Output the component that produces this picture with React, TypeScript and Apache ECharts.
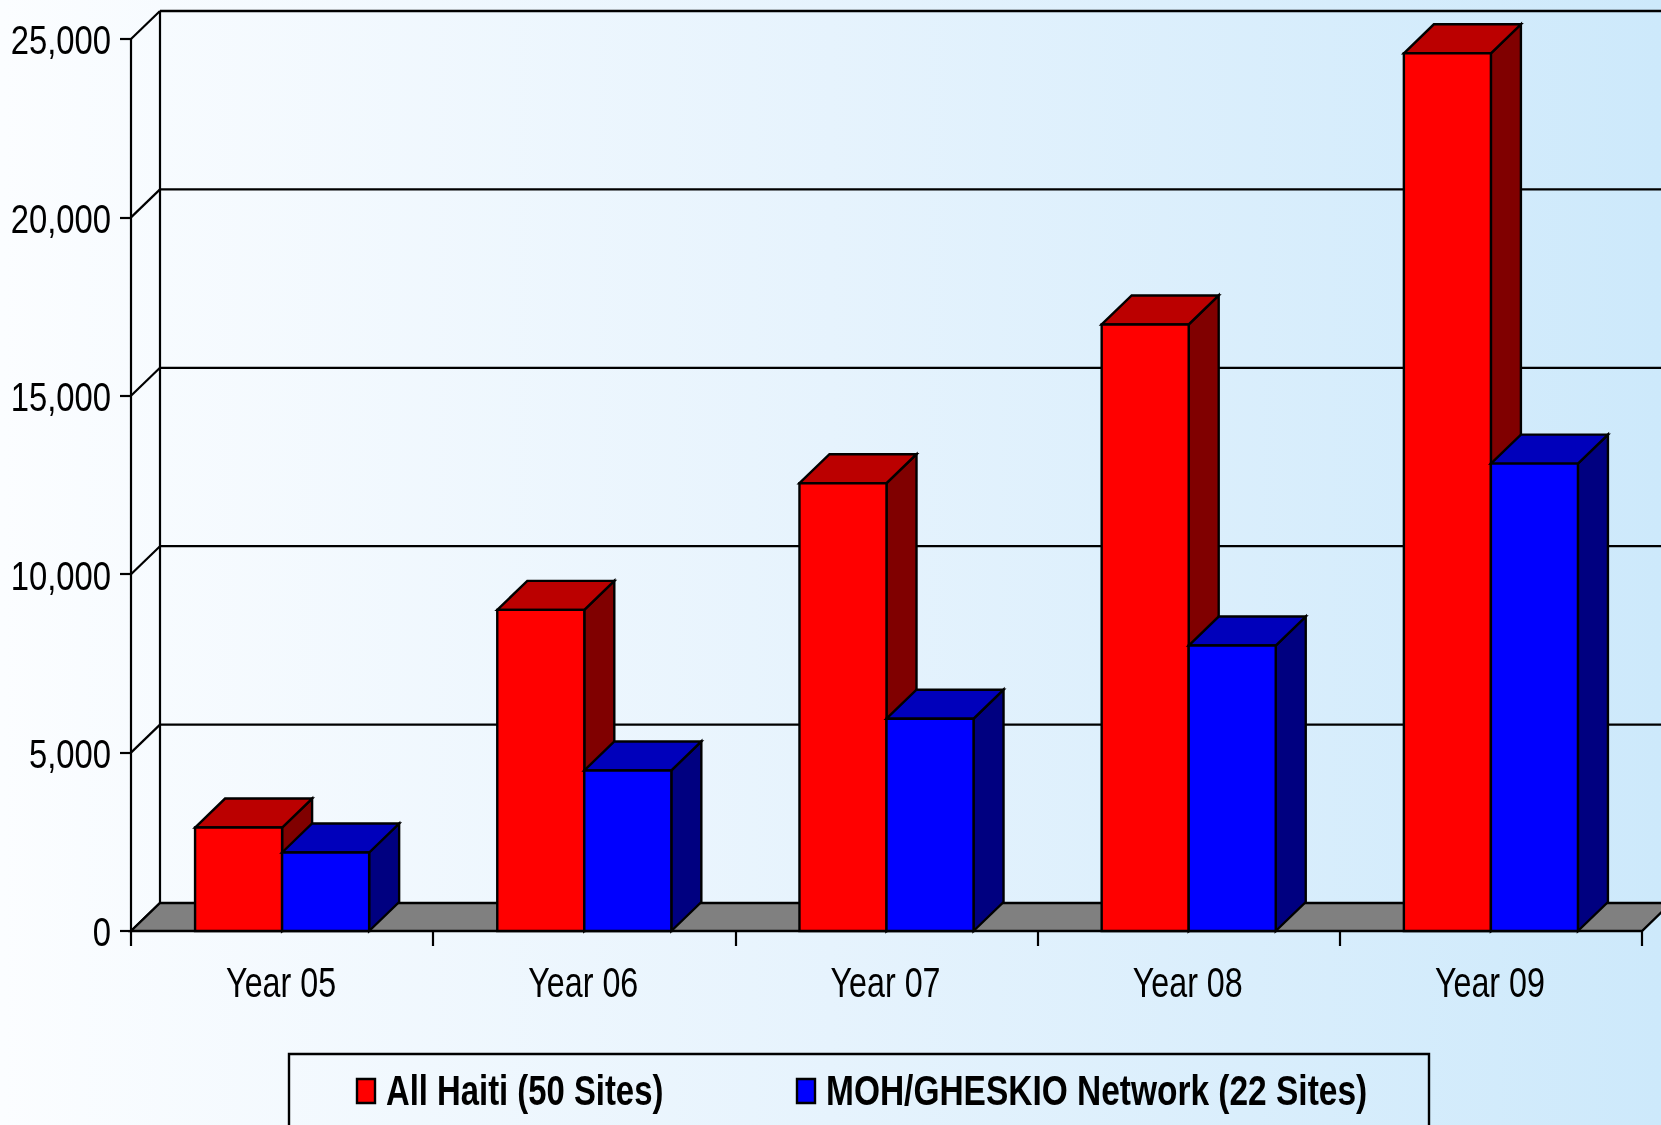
import React, { useEffect, useRef } from "react";
import * as echarts from "echarts";

// Patients per year, two site groups
const categories = ["Year 05", "Year 06", "Year 07", "Year 08", "Year 09"];
const allHaiti = [2900, 9000, 12550, 17000, 24600];
const gheskio = [2200, 4500, 5950, 8000, 13100];
const seriesNames = ["All Haiti (50 Sites)", "MOH/GHESKIO Network (22 Sites)"];
const yTicks = [0, 5000, 10000, 15000, 20000, 25000];

const W = 1661;
const H = 1125;
// oblique depth of the 3D frame and of the columns
const WALL_DX = 29;
const WALL_DY = -28;
const BAR_DX = 30;
const BAR_DY = -29;
const SANS = "'Liberation Sans', Arial, Helvetica, sans-serif";

const edge = { stroke: "#000", lineWidth: 2.4, lineJoin: "miter" as const };
const thin = { stroke: "#000", lineWidth: 2.2 };

function columnRenderer(slot: number, front: string, top: string, side: string) {
  return (params: any, api: any) => {
    const cat = api.value(0);
    const v = api.value(1);
    const base = api.coord([cat, 0]);
    const head = api.coord([cat, v]);
    const band = api.size([1, 0])[0];
    const bw = band * 0.288;
    const x = base[0] - bw + slot * bw;
    const yb = base[1];
    const yt = head[1];
    return {
      type: "group",
      children: [
        {
          type: "polygon",
          shape: {
            points: [
              [x + bw, yb],
              [x + bw + BAR_DX, yb + BAR_DY],
              [x + bw + BAR_DX, yt + BAR_DY],
              [x + bw, yt],
            ],
          },
          style: { fill: side, ...edge },
        },
        {
          type: "polygon",
          shape: {
            points: [
              [x, yt],
              [x + BAR_DX, yt + BAR_DY],
              [x + bw + BAR_DX, yt + BAR_DY],
              [x + bw, yt],
            ],
          },
          style: { fill: top, ...edge },
        },
        {
          type: "rect",
          shape: { x, y: yt, width: bw, height: yb - yt },
          style: { fill: front, ...edge },
        },
      ],
    };
  };
}

// back-wall gridlines with their oblique connectors to the front axis
function wallRenderer(params: any, api: any) {
  const cs = params.coordSys;
  const v = api.value(1);
  const y = api.coord([0, v])[1];
  const x0 = cs.x;
  const isTop = v === yTicks[yTicks.length - 1];
  return {
    type: "group",
    children: [
      {
        type: "line",
        shape: { x1: x0, y1: y, x2: x0 + WALL_DX, y2: y + WALL_DY },
        style: { ...thin },
      },
      {
        type: "line",
        shape: { x1: x0 + WALL_DX, y1: y + WALL_DY, x2: W + 40, y2: y + WALL_DY },
        style: { ...thin, lineWidth: isTop ? 2.6 : 2.2 },
      },
    ],
  };
}

// grey floor and left edge of the back wall
function floorRenderer(params: any, api: any) {
  const cs = params.coordSys;
  const y0 = api.coord([0, 0])[1];
  const yTop = api.coord([0, yTicks[yTicks.length - 1]])[1];
  const x0 = cs.x;
  const x1 = cs.x + cs.width;
  return {
    type: "group",
    children: [
      {
        type: "line",
        shape: { x1: x0 + WALL_DX, y1: y0 + WALL_DY, x2: x0 + WALL_DX, y2: yTop + WALL_DY },
        style: { ...thin },
      },
      {
        type: "polygon",
        shape: {
          points: [
            [x0, y0],
            [x1, y0],
            [x1 + WALL_DX, y0 + WALL_DY],
            [x0 + WALL_DX, y0 + WALL_DY],
          ],
        },
        style: { fill: "#808080", ...edge },
      },
    ],
  };
}

// value labels left of the front axis, set in a narrow face
function yLabelRenderer(params: any, api: any) {
  const cs = params.coordSys;
  const v = api.value(1);
  const y = api.coord([0, v])[1];
  return {
    type: "text",
    x: cs.x - 20,
    y: y + 1,
    scaleX: 0.8,
    style: {
      text: v.toLocaleString("en-US"),
      fontSize: 41,
      fontFamily: SANS,
      fill: "#000",
      align: "right",
      verticalAlign: "middle",
    },
  };
}

// category names under the floor
function xLabelRenderer(params: any, api: any) {
  const i = api.value(0);
  const p = api.coord([i, 0]);
  return {
    type: "text",
    x: p[0] - 1,
    y: p[1] + 51,
    scaleX: 0.75,
    style: {
      text: categories[i],
      fontSize: 43,
      fontFamily: SANS,
      fill: "#000",
      align: "center",
      verticalAlign: "middle",
    },
  };
}

function legendEntry(x: number, color: string, name: string, squeeze: number) {
  return {
    type: "group",
    x,
    y: 1091,
    children: [
      {
        type: "rect",
        shape: { x: 1, y: -12, width: 18, height: 24 },
        style: { fill: color, stroke: "#000", lineWidth: 2.4 },
      },
      {
        type: "text",
        x: 30,
        y: 0,
        scaleX: squeeze,
        style: {
          text: name,
          fontSize: 42,
          fontWeight: "bold",
          fontFamily: SANS,
          fill: "#000",
          align: "left",
          verticalAlign: "middle",
        },
      },
    ],
  };
}

export default function App() {
  const ref = useRef<HTMLDivElement>(null);

  useEffect(() => {
    if (!ref.current) return;
    const chart = echarts.init(ref.current, null, { renderer: "svg" });
    chart.setOption({
      animation: false,
      graphic: [
        {
          type: "rect",
          z: -100,
          silent: true,
          shape: { x: 0, y: 0, width: W, height: H },
          style: {
            fill: {
              type: "linear",
              x: 0,
              y: 0,
              x2: 1,
              y2: 0,
              colorStops: [
                { offset: 0, color: "#fbfdff" },
                { offset: 0.5, color: "#e6f3fd" },
                { offset: 1, color: "#cde9fb" },
              ],
            },
          },
        },
        {
          type: "rect",
          z: 10,
          silent: true,
          shape: { x: 289, y: 1054, width: 1140, height: 120 },
          style: { fill: "none", stroke: "#000", lineWidth: 2.4 },
        },
        { ...legendEntry(356, "#ff0000", seriesNames[0], 0.782), z: 10 },
        { ...legendEntry(796, "#0000ff", seriesNames[1], 0.797), z: 10 },
      ],
      grid: {
        left: 131,
        right: 19,
        top: 39,
        bottom: 194,
        containLabel: false,
        outerBoundsMode: "none",
      },
      xAxis: {
        type: "category",
        data: categories,
        boundaryGap: true,
        axisLine: { show: true, lineStyle: { color: "#000", width: 2.2 } },
        axisTick: { show: true, length: 15, lineStyle: { color: "#000", width: 2.2 } },
        axisLabel: { show: false },
        splitLine: { show: false },
      },
      yAxis: {
        type: "value",
        min: 0,
        max: 25000,
        interval: 5000,
        axisLine: { show: true, lineStyle: { color: "#000", width: 2.2 } },
        axisTick: { show: true, length: 11, lineStyle: { color: "#000", width: 2.2 } },
        axisLabel: { show: false },
        splitLine: { show: false },
      },
      series: [
        {
          type: "custom",
          name: "wall",
          silent: true,
          renderItem: wallRenderer,
          data: yTicks.map((v) => [0, v]),
          encode: { x: 0, y: 1 },
          z: 1,
        },
        {
          type: "custom",
          name: "floor",
          silent: true,
          renderItem: floorRenderer,
          data: [[0, 0]],
          encode: { x: 0, y: 1 },
          z: 1,
        },
        {
          type: "custom",
          name: seriesNames[0],
          renderItem: columnRenderer(0, "#ff0000", "#bb0000", "#800000"),
          data: allHaiti.map((v, i) => [i, v]),
          encode: { x: 0, y: 1 },
          z: 2,
        },
        {
          type: "custom",
          name: seriesNames[1],
          renderItem: columnRenderer(1, "#0000ff", "#0000bb", "#000080"),
          data: gheskio.map((v, i) => [i, v]),
          encode: { x: 0, y: 1 },
          z: 2,
        },
        {
          type: "custom",
          name: "valueLabels",
          silent: true,
          renderItem: yLabelRenderer,
          data: yTicks.map((v) => [0, v]),
          encode: { x: 0, y: 1 },
          z: 3,
        },
        {
          type: "custom",
          name: "categoryLabels",
          silent: true,
          renderItem: xLabelRenderer,
          data: categories.map((_, i) => [i, 0]),
          encode: { x: 0, y: 1 },
          z: 3,
        },
      ],
    });
    return () => chart.dispose();
  }, []);

  return (
    <div
      ref={ref}
      style={{ position: "fixed", left: 0, top: 0, width: W, height: H }}
    />
  );
}
